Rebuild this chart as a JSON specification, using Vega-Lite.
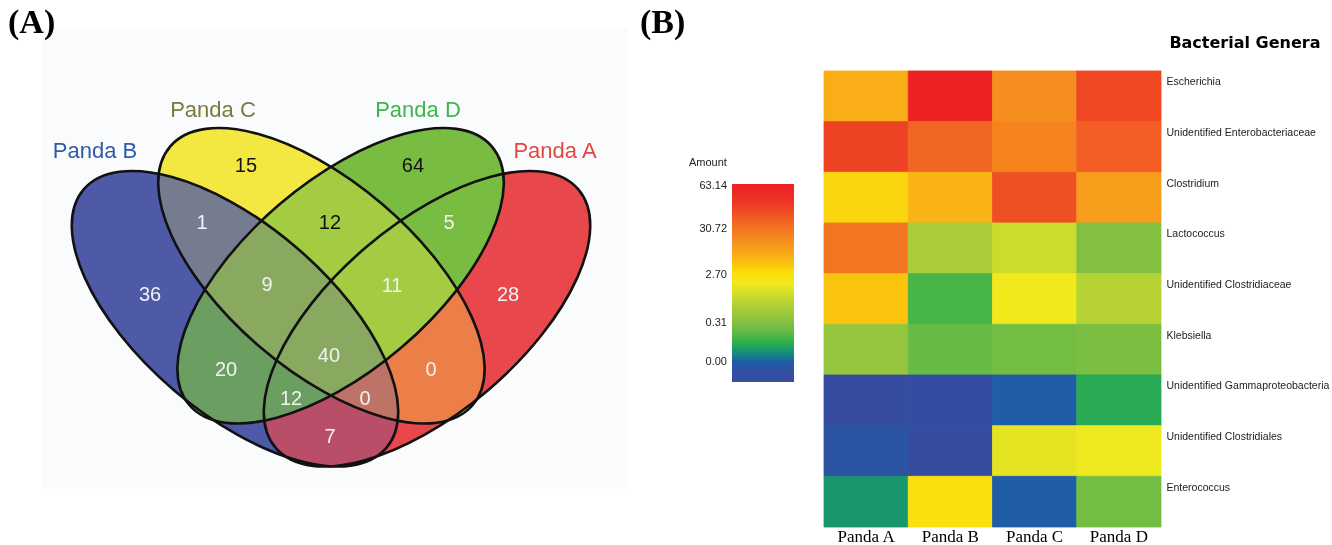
{
  "$schema": "https://vega.github.io/schema/vega-lite/v6.json",
  "padding": {"left": 8, "top": 6, "right": 5, "bottom": 2},
  "background": "white",
  "spacing": 12,
  "resolve": {"scale": {"color": "independent"}, "legend": {"color": "independent"}},
  "config": {"view": {"stroke": null}, "font": "Liberation Sans"},
  "datasets": {
    "sets": [
      {"set": "Panda C", "x": 0.4777, "y": 0.4625},
      {"set": "Panda B", "x": 0.3305, "y": 0.3694},
      {"set": "Panda A", "x": 0.6576, "y": 0.3694},
      {"set": "Panda D", "x": 0.5104, "y": 0.4625}
    ],
    "setNames": [
      {"set": "Panda B", "x": 0.092, "y": 0.7332},
      {"set": "Panda C", "x": 0.293, "y": 0.8221},
      {"set": "Panda D", "x": 0.6422, "y": 0.8221},
      {"set": "Panda A", "x": 0.8756, "y": 0.7332}
    ],
    "regions": [
      {"region": "C", "count": 15, "x": 0.3492, "y": 0.7007},
      {"region": "D", "count": 64, "x": 0.6337, "y": 0.7007},
      {"region": "BC", "count": 1, "x": 0.2743, "y": 0.577},
      {"region": "CD", "count": 12, "x": 0.4923, "y": 0.577},
      {"region": "DA", "count": 5, "x": 0.6951, "y": 0.577},
      {"region": "B", "count": 36, "x": 0.1857, "y": 0.4208},
      {"region": "BCD", "count": 9, "x": 0.385, "y": 0.4425},
      {"region": "CDA", "count": 11, "x": 0.598, "y": 0.4403},
      {"region": "A", "count": 28, "x": 0.7956, "y": 0.4208},
      {"region": "BD", "count": 20, "x": 0.3152, "y": 0.2581},
      {"region": "BCDA", "count": 40, "x": 0.4906, "y": 0.2885},
      {"region": "CA", "count": 0, "x": 0.6644, "y": 0.2581},
      {"region": "BDA", "count": 12, "x": 0.4259, "y": 0.1952},
      {"region": "BCA", "count": 0, "x": 0.552, "y": 0.1952},
      {"region": "BA", "count": 7, "x": 0.4923, "y": 0.1128}
    ],
    "genera": [
      {"genus": "Escherichia", "panda": "Panda A", "level": 0.643},
      {"genus": "Escherichia", "panda": "Panda B", "level": 1.0},
      {"genus": "Escherichia", "panda": "Panda C", "level": 0.715},
      {"genus": "Escherichia", "panda": "Panda D", "level": 0.869},
      {"genus": "Unidentified  Enterobacteriaceae", "panda": "Panda A", "level": 0.881},
      {"genus": "Unidentified  Enterobacteriaceae", "panda": "Panda B", "level": 0.81},
      {"genus": "Unidentified  Enterobacteriaceae", "panda": "Panda C", "level": 0.736},
      {"genus": "Unidentified  Enterobacteriaceae", "panda": "Panda D", "level": 0.825},
      {"genus": "Clostridium", "panda": "Panda A", "level": 0.567},
      {"genus": "Clostridium", "panda": "Panda B", "level": 0.63},
      {"genus": "Clostridium", "panda": "Panda C", "level": 0.85},
      {"genus": "Clostridium", "panda": "Panda D", "level": 0.68},
      {"genus": "Lactococcus", "panda": "Panda A", "level": 0.772},
      {"genus": "Lactococcus", "panda": "Panda B", "level": 0.372},
      {"genus": "Lactococcus", "panda": "Panda C", "level": 0.44},
      {"genus": "Lactococcus", "panda": "Panda D", "level": 0.3},
      {"genus": "Unidentified  Clostridiaceae", "panda": "Panda A", "level": 0.595},
      {"genus": "Unidentified  Clostridiaceae", "panda": "Panda B", "level": 0.226},
      {"genus": "Unidentified  Clostridiaceae", "panda": "Panda C", "level": 0.5},
      {"genus": "Unidentified  Clostridiaceae", "panda": "Panda D", "level": 0.4},
      {"genus": "Klebsiella", "panda": "Panda A", "level": 0.331},
      {"genus": "Klebsiella", "panda": "Panda B", "level": 0.258},
      {"genus": "Klebsiella", "panda": "Panda C", "level": 0.277},
      {"genus": "Klebsiella", "panda": "Panda D", "level": 0.287},
      {"genus": "Unidentified  Gammaproteobacteria", "panda": "Panda A", "level": 0.0},
      {"genus": "Unidentified  Gammaproteobacteria", "panda": "Panda B", "level": 0.02},
      {"genus": "Unidentified  Gammaproteobacteria", "panda": "Panda C", "level": 0.1},
      {"genus": "Unidentified  Gammaproteobacteria", "panda": "Panda D", "level": 0.19},
      {"genus": "Unidentified  Clostridiales", "panda": "Panda A", "level": 0.07},
      {"genus": "Unidentified  Clostridiales", "panda": "Panda B", "level": 0.01},
      {"genus": "Unidentified  Clostridiales", "panda": "Panda C", "level": 0.478},
      {"genus": "Unidentified  Clostridiales", "panda": "Panda D", "level": 0.494},
      {"genus": "Enterococcus", "panda": "Panda A", "level": 0.16},
      {"genus": "Enterococcus", "panda": "Panda B", "level": 0.545},
      {"genus": "Enterococcus", "panda": "Panda C", "level": 0.1},
      {"genus": "Enterococcus", "panda": "Panda D", "level": 0.277}
    ]
  },
  "hconcat": [
    {
      "width": 587,
      "height": 461,
      "view": {"fill": "#fafbfd", "stroke": null},
      "title": {"text": "(A)", "anchor": "start", "frame": "group", "font": "Liberation Serif", "fontSize": 34, "fontWeight": "bold", "color": "black", "baseline": "bottom", "offset": 0, "dx": -33, "dy": 46},
      "encoding": {
        "x": {"field": "x", "type": "quantitative", "scale": {"domain": [0, 1], "nice": false, "zero": false}, "axis": null},
        "y": {"field": "y", "type": "quantitative", "scale": {"domain": [0, 1], "nice": false, "zero": false}, "axis": null}
      },
      "layer": [
        {
          "data": {"name": "sets"},
          "transform": [{"filter": "datum.set == 'Panda C' || datum.set == 'Panda B'"}],
          "mark": {"type": "point", "shape": "M 1 0 C 1 0.2609 0.5523 0.4724 0 0.4724 C -0.5523 0.4724 -1 0.2609 -1 0 C -1 -0.2609 -0.5523 -0.4724 0 -0.4724 C 0.5523 -0.4724 1 -0.2609 1 0 Z", "size": 158404, "angle": 40.5, "filled": true, "opacity": 1, "fillOpacity": 1, "strokeWidth": 0, "clip": true},
          "encoding": {"fill": {"field": "set", "type": "nominal", "scale": {"domain": ["Panda A", "Panda B", "Panda C", "Panda D"], "range": ["#e8484c", "#4e59a8", "#f3e841", "#78bd42"]}, "legend": null}}
        },
        {
          "data": {"name": "sets"},
          "transform": [{"filter": "datum.set == 'Panda A' || datum.set == 'Panda D'"}],
          "mark": {"type": "point", "shape": "M 1 0 C 1 0.2609 0.5523 0.4724 0 0.4724 C -0.5523 0.4724 -1 0.2609 -1 0 C -1 -0.2609 -0.5523 -0.4724 0 -0.4724 C 0.5523 -0.4724 1 -0.2609 1 0 Z", "size": 158404, "angle": 319.5, "filled": true, "opacity": 1, "fillOpacity": 1, "strokeWidth": 0, "clip": true},
          "encoding": {"fill": {"field": "set", "type": "nominal", "legend": null}}
        },
        {
          "data": {"name": "sets"},
          "transform": [{"filter": "datum.set == 'Panda C'"}],
          "mark": {"type": "point", "shape": "M 1 0 C 1 0.2609 0.5523 0.4724 0 0.4724 C -0.5523 0.4724 -1 0.2609 -1 0 C -1 -0.2609 -0.5523 -0.4724 0 -0.4724 C 0.5523 -0.4724 1 -0.2609 1 0 Z", "size": 158404, "angle": 40.5, "filled": true, "opacity": 1, "fillOpacity": 0.35, "blend": "screen", "strokeWidth": 0, "clip": true},
          "encoding": {"fill": {"field": "set", "type": "nominal", "legend": null}}
        },
        {
          "data": {"name": "sets"},
          "transform": [{"filter": "datum.set == 'Panda B'"}],
          "mark": {"type": "point", "shape": "M 1 0 C 1 0.2609 0.5523 0.4724 0 0.4724 C -0.5523 0.4724 -1 0.2609 -1 0 C -1 -0.2609 -0.5523 -0.4724 0 -0.4724 C 0.5523 -0.4724 1 -0.2609 1 0 Z", "size": 158404, "angle": 40.5, "filled": true, "opacity": 1, "fillOpacity": 0.3, "strokeWidth": 0, "clip": true},
          "encoding": {"fill": {"field": "set", "type": "nominal", "legend": null}}
        },
        {
          "data": {"name": "sets"},
          "transform": [{"filter": "datum.set == 'Panda C' || datum.set == 'Panda B'"}],
          "mark": {"type": "point", "shape": "M 1 0 C 1 0.2609 0.5523 0.4724 0 0.4724 C -0.5523 0.4724 -1 0.2609 -1 0 C -1 -0.2609 -0.5523 -0.4724 0 -0.4724 C 0.5523 -0.4724 1 -0.2609 1 0 Z", "size": 158404, "angle": 40.5, "filled": false, "opacity": 1, "stroke": "#111111", "strokeWidth": 2.6, "clip": true}
        },
        {
          "data": {"name": "sets"},
          "transform": [{"filter": "datum.set == 'Panda A' || datum.set == 'Panda D'"}],
          "mark": {"type": "point", "shape": "M 1 0 C 1 0.2609 0.5523 0.4724 0 0.4724 C -0.5523 0.4724 -1 0.2609 -1 0 C -1 -0.2609 -0.5523 -0.4724 0 -0.4724 C 0.5523 -0.4724 1 -0.2609 1 0 Z", "size": 158404, "angle": 319.5, "filled": false, "opacity": 1, "stroke": "#111111", "strokeWidth": 2.6, "clip": true}
        },
        {
          "data": {"name": "regions"},
          "mark": {"type": "text", "font": "Liberation Sans", "fontSize": 20, "align": "center", "baseline": "middle"},
          "encoding": {
            "text": {"field": "count", "type": "quantitative"},
            "color": {"condition": {"test": "indexof(['C', 'D', 'CD'], datum.region) >= 0", "value": "#111111"}, "value": "#f2f2f2"}
          }
        },
        {
          "data": {"name": "setNames"},
          "mark": {"type": "text", "font": "Liberation Sans", "fontSize": 22, "align": "center", "baseline": "middle"},
          "encoding": {
            "text": {"field": "set", "type": "nominal"},
            "color": {"field": "set", "type": "nominal", "scale": {"domain": ["Panda A", "Panda B", "Panda C", "Panda D"], "range": ["#e2483f", "#2f5aa8", "#7b7a3d", "#3cb54a"]}, "legend": null}
          }
        }
      ]
    },
    {
      "width": 337,
      "height": 499,
      "title": {"text": "(B)", "anchor": "start", "frame": "group", "font": "Liberation Serif", "fontSize": 34, "fontWeight": "bold", "color": "black", "baseline": "bottom", "offset": 0, "dx": -184, "dy": 46},
      "data": {"name": "genera"},
      "mark": {"type": "rect", "strokeWidth": 0.8},
      "encoding": {
        "x": {
          "field": "panda", "type": "nominal",
          "sort": ["Panda A", "Panda B", "Panda C", "Panda D"],
          "scale": {"paddingInner": 0, "paddingOuter": 0},
          "axis": {"orient": "bottom", "title": null, "domain": false, "ticks": false, "labelAngle": 0, "labelFont": "Liberation Serif", "labelFontSize": 17, "labelColor": "black", "labelPadding": 1}
        },
        "y": {
          "field": "genus", "type": "nominal",
          "sort": ["Escherichia", "Unidentified  Enterobacteriaceae", "Clostridium", "Lactococcus", "Unidentified  Clostridiaceae", "Klebsiella", "Unidentified  Gammaproteobacteria", "Unidentified  Clostridiales", "Enterococcus"],
          "scale": {"paddingInner": 0, "paddingOuter": 0.424, "align": 1},
          "axis": {"orient": "right", "title": "Bacterial Genera", "titleAngle": 0, "titleX": 159, "titleY": 14, "titleAlign": "right", "titleBaseline": "middle", "titleFont": "DejaVu Sans", "titleFontSize": 16, "titleFontWeight": "bold", "titleColor": "black", "domain": false, "ticks": false, "labelFont": "Liberation Sans", "labelFontSize": 10.5, "labelColor": "#222222", "labelPadding": 5, "labelOffset": -14, "labelLimit": 0, "labelBaseline": "middle"}
        },
        "color": {
          "field": "level", "type": "quantitative",
          "scale": {"domain": [0, 1], "nice": false, "zero": false, "interpolate": "rgb", "range": ["#364c9f", "#334ea1", "#1f5da6", "#149077", "#2eb04b", "#60b946", "#83c040", "#9ec83b", "#b6d235", "#d3dd2a", "#f2e91c", "#fbdf0b", "#fbc210", "#f9a918", "#f7941e", "#f47e20", "#f26a22", "#ef5023", "#ee3a24", "#ed2a24", "#ec2224"]},
          "legend": {
            "orient": "none", "legendX": -135, "legendY": 129, "direction": "vertical",
            "title": "Amount", "titleFont": "Liberation Sans", "titleFontSize": 11, "titleFontWeight": "normal", "titleColor": "#222222", "titleBaseline": "top", "titlePadding": 16,
            "gradientLength": 198, "gradientThickness": 62, "gradientStrokeWidth": 0,
            "values": [0.1, 0.3, 0.54, 0.773, 0.99],
            "labelExpr": "datum.value < 0.2 ? '0.00' : datum.value < 0.4 ? '0.31' : datum.value < 0.6 ? '2.70' : datum.value < 0.9 ? '30.72' : '63.14'",
            "labelOffset": -67, "labelFont": "Liberation Sans", "labelFontSize": 11, "labelColor": "#222222", "labelOverlap": false, "padding": 0,
            "encode": {
              "labels": {"update": {"align": {"value": "right"}}},
              "title": {"update": {"dx": {"value": -43}}}
            }
          }
        },
        "stroke": {
          "field": "level", "type": "quantitative",
          "scale": {"domain": [0, 1], "nice": false, "zero": false, "interpolate": "rgb", "range": ["#364c9f", "#334ea1", "#1f5da6", "#149077", "#2eb04b", "#60b946", "#83c040", "#9ec83b", "#b6d235", "#d3dd2a", "#f2e91c", "#fbdf0b", "#fbc210", "#f9a918", "#f7941e", "#f47e20", "#f26a22", "#ef5023", "#ee3a24", "#ed2a24", "#ec2224"]},
          "legend": null
        }
      }
    }
  ]
}
